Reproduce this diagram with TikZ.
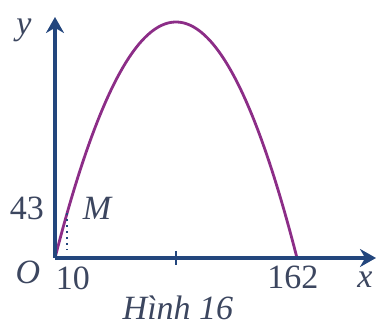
\documentclass[tikz,border=0pt]{standalone}
\usepackage{fontspec}
\setmainfont{Liberation Serif}
\usetikzlibrary{arrows.meta}
\definecolor{axisblue}{RGB}{35,70,125}
\definecolor{curvepurple}{RGB}{140,45,135}
\definecolor{labelgray}{RGB}{60,70,95}
\begin{document}
\begin{tikzpicture}[x=0.5pt,y=0.5pt,font=\fontsize{17}{19}\selectfont,text=labelgray]
\useasboundingbox (-55,-78) rectangle (322,258);
\coordinate (O) at (0,0);
\coordinate (xend) at (321,0);
\coordinate (yend) at (0,241);
\coordinate (M) at (12,44.5);
\coordinate (Mfoot) at (12,8);
\coordinate (tickup) at (121,7);
\coordinate (tickdown) at (121,-7);
\draw[curvepurple,line width=1.4pt] plot[domain=0:242,samples=90,smooth] (\x,{236*(1-((\x-121)/121)^2)});
\draw[axisblue,line width=1pt,dotted] (M) -- (Mfoot);
\draw[axisblue,line width=2pt,-{Stealth[length=8pt,width=9pt]}] (O) -- (xend);
\draw[axisblue,line width=2pt,-{Stealth[length=8pt,width=9pt]}] (O) -- (yend);
\draw[axisblue,line width=1.2pt] (tickup) -- (tickdown);
\node (ylab) at (-31,228) {\itshape y};
\node (xlab) at (310,-22) {\itshape x};
\node (olab) at (-27,-14) {\itshape O};
\node (mlab) at (42,50) {\itshape M};
\node (ylev) at (-28,50) {43};
\node (xten) at (18,-20) {10};
\node (xend162) at (238,-19) {162};
\node (caption) at (123,-50) {\itshape Hình 16};
\end{tikzpicture}
\end{document}
